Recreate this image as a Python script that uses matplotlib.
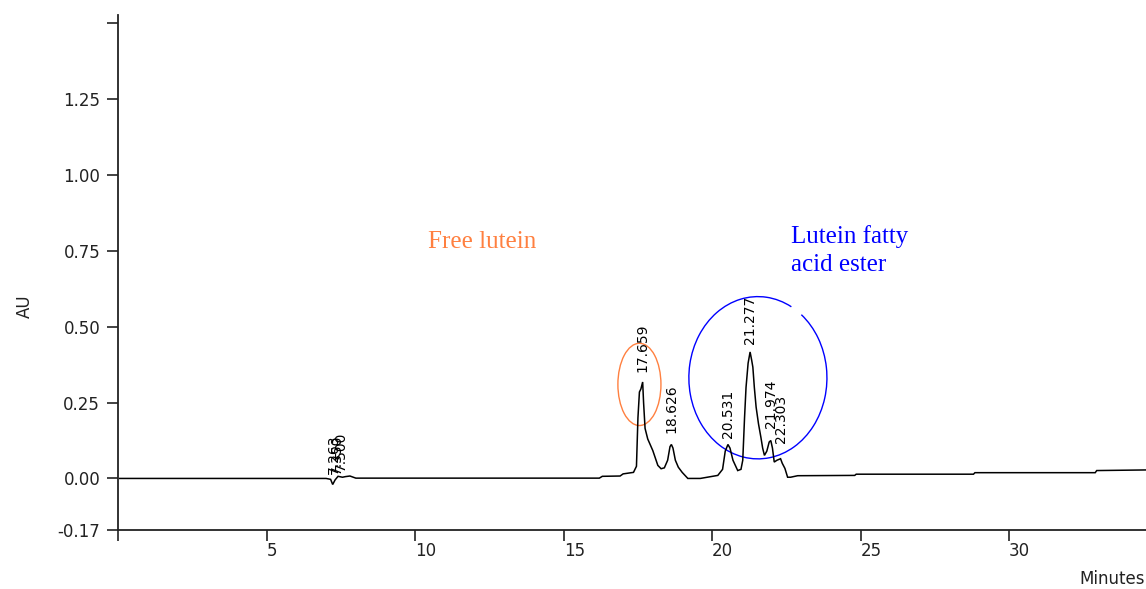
import numpy as np
import matplotlib
matplotlib.use("Agg")
import matplotlib.pyplot as plt
from matplotlib.patches import Ellipse, Arc

# Chromatogram trace: retention time (min) vs absorbance (AU)
time_min = [0.05, 7.00, 7.15, 7.22, 7.30, 7.40, 7.55, 7.65, 7.80, 8.00,
            16.20, 16.30, 16.90, 17.00, 17.35, 17.45, 17.50, 17.55, 17.60,
            17.659, 17.69, 17.74, 17.83, 18.00, 18.17, 18.28, 18.39,
            18.50, 18.58, 18.626, 18.68, 18.76, 18.86, 18.99, 19.18, 19.60,
            20.19, 20.35, 20.44, 20.531, 20.60, 20.70, 20.86, 20.97, 21.03,
            21.09, 21.14, 21.21, 21.277, 21.33, 21.37, 21.42, 21.48, 21.56,
            21.64, 21.70, 21.76, 21.84, 21.92, 21.974, 22.03, 22.09, 22.18,
            22.303, 22.36, 22.45, 22.54, 22.64, 22.88, 24.80, 24.85, 28.80,
            28.85, 32.90, 32.95, 34.60]
absorbance = [0.000, 0.000, -0.003, -0.020, -0.005, 0.007, 0.004, 0.006, 0.008, 0.001,
              0.001, 0.007, 0.008, 0.015, 0.020, 0.040, 0.200, 0.285, 0.295,
              0.318, 0.250, 0.165, 0.130, 0.092, 0.043, 0.032, 0.035,
              0.060, 0.105, 0.112, 0.100, 0.060, 0.037, 0.020, 0.000, 0.000,
              0.010, 0.030, 0.090, 0.112, 0.100, 0.060, 0.026, 0.030, 0.060,
              0.200, 0.300, 0.380, 0.417, 0.390, 0.367, 0.300, 0.235, 0.180,
              0.136, 0.100, 0.076, 0.090, 0.120, 0.125, 0.100, 0.054, 0.060,
              0.065, 0.050, 0.033, 0.004, 0.004, 0.009, 0.010, 0.014, 0.014,
              0.019, 0.019, 0.026, 0.028]

# Integrated peak retention times
peak_labels = ["7.263", "7.350", "7.500", "17.659", "18.626",
               "20.531", "21.277", "21.974", "22.303"]
peak_times = [float(s) for s in peak_labels]

x_ticks = [0, 5, 10, 15, 20, 25, 30]
x_ticklabels = ["", "5", "10", "15", "20", "25", "30"]
y_ticks = [-0.17, 0.00, 0.25, 0.50, 0.75, 1.00, 1.25, 1.50]
y_ticklabels = ["-0.17", "0.00", "0.25", "0.50", "0.75", "1.00", "1.25", ""]

W, H, DPI = 1146, 589, 100
fig = plt.figure(figsize=(W / DPI, H / DPI), dpi=DPI)
fig.patch.set_facecolor("white")

ax_left = 118.3 / W
ax_bottom = (H - 530) / H
ax_top = (H - 15) / H
ax = fig.add_axes([ax_left, ax_bottom, 1.0 - ax_left, ax_top - ax_bottom])
ax.set_xlim(0, 34.61)
ax.set_ylim(-0.17, 1.528)
ax.set_facecolor("white")

ax.plot(time_min, absorbance, color="black", lw=1.1, solid_joinstyle="miter")

for sp in ("top", "right"):
    ax.spines[sp].set_visible(False)
for sp in ("left", "bottom"):
    ax.spines[sp].set_linewidth(1.3)
    ax.spines[sp].set_color("#222222")

ax.set_xticks(x_ticks)
ax.set_xticklabels(x_ticklabels, ha="left")
ax.set_yticks(y_ticks)
ax.set_yticklabels(y_ticklabels)
ax.tick_params(axis="both", direction="out", length=8, width=1.2,
               colors="#222222", labelsize=12, labelcolor="#222222")
ax.tick_params(axis="y", pad=5)
ax.tick_params(axis="x", pad=1)

# Retention-time labels above each peak
label_offsets = [6, 3, 4, 7, 8, 5, 6, 9, 11]
for lab, t, off in zip(peak_labels, peak_times, label_offsets):
    yv = float(np.interp(t, time_min, absorbance))
    ax.annotate(lab, xy=(t, yv), xytext=(0, off), textcoords="offset points",
                rotation=90, ha="center", va="bottom", fontsize=10,
                color="black")

# Highlight rings around the lutein groups
ax.add_patch(Ellipse((17.55, 0.310), 1.45, 0.271, fill=False,
                     edgecolor="#FF8040", lw=1.0))

ring_w, ring_h = 4.65, 0.535


def arc_angle(phi_deg):
    # Arc stretches its angles by width/height; undo that so the gap sits
    # at the given parametric angle of the ellipse.
    phi = np.deg2rad(phi_deg)
    return np.rad2deg(np.arctan2(np.sin(phi) * ring_h, np.cos(phi) * ring_w))


ax.add_patch(Arc((21.54, 0.332), ring_w, ring_h,
                 theta1=arc_angle(61), theta2=arc_angle(51) + 360,
                 edgecolor="#0000FF", lw=1.0))

ax.text(10.43, 0.779, "Free lutein", color="#FF8040", fontsize=18,
        family="Liberation Serif", ha="left", va="center")
ax.text(22.65, 0.751, "Lutein fatty\nacid ester", color="#0000FF",
        fontsize=18, family="Liberation Serif", ha="left", va="center",
        linespacing=1.35)

fig.text(25 / W, 1 - 306 / H, "AU", rotation=90, ha="center", va="center",
         fontsize=12, color="#222222")
fig.text(1145 / W, 1 - 579 / H, "Minutes", ha="right", va="center",
         fontsize=12, color="#222222")

fig.savefig("out.png", dpi=DPI, facecolor="white")
